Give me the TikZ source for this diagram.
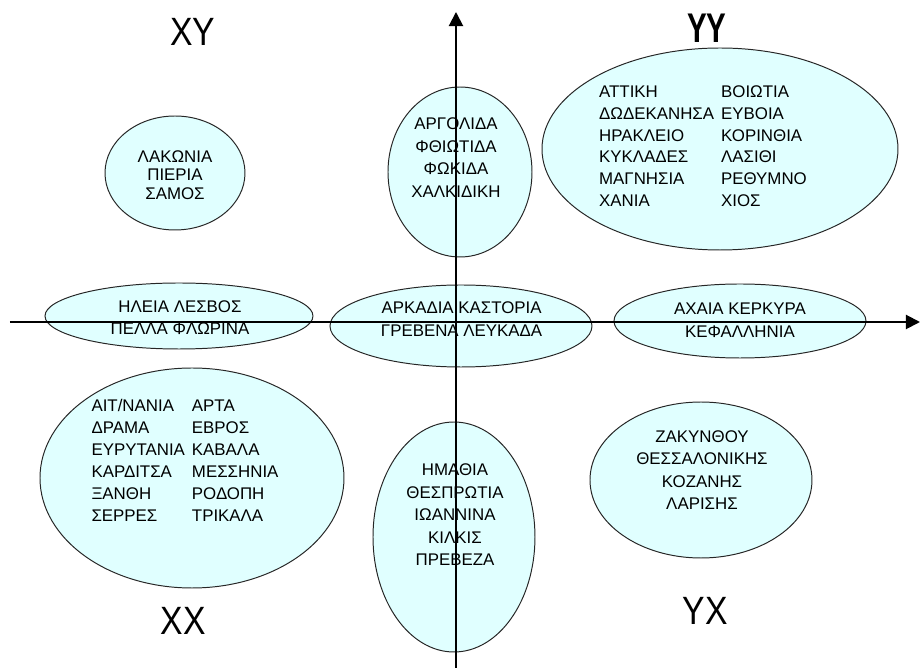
\documentclass[tikz,border=0pt]{standalone}
\usepackage{fontspec}
\setmainfont{Liberation Sans}
\usetikzlibrary{arrows.meta,shapes.geometric}
\definecolor{regfill}{RGB}{224,255,255}

\begin{document}
\begin{tikzpicture}[
    region/.style={ellipse, draw=black!85, line width=0.7pt, fill=regfill, inner sep=0pt},
    names/.style={align=center, font=\fontsize{12}{16}\selectfont},
    quad/.style={font=\fontsize{24}{24}\selectfont, yscale=1.17, transform shape},
    axis/.style={-{Triangle[length=10pt,width=10pt]}, line width=1.4pt}
]
\useasboundingbox (-11.4,-8.725) rectangle (11.625,8.05);

% regions
\node[region, minimum width=3.5cm, minimum height=2.85cm] (lakonia) at (-7.025,3.725) {};
\node[region, minimum width=3.6cm, minimum height=4.25cm] (argolida) at (0.1,3.75) {};
\node[region, minimum width=8.9cm, minimum height=5.05cm] (attiki) at (6.6,4.325) {};
\node[region, minimum width=6.7cm, minimum height=1.65cm] (ilia) at (-6.925,0.15) {};
\node[region, minimum width=6.55cm, minimum height=2.05cm] (arkadia) at (0.125,-0.1) {};
\node[region, minimum width=6.3cm, minimum height=1.85cm] (achaia) at (7.1,0.025) {};
\node[region, minimum width=7.6cm, minimum height=5.5cm] (aitnania) at (-6.6,-3.9) {};
\node[region, minimum width=4.05cm, minimum height=5.75cm] (imathia) at (-0.05,-5.375) {};
\node[region, minimum width=5.55cm, minimum height=3.9cm] (zakynthos) at (6.125,-3.95) {};

% names
\node[names, font=\fontsize{12}{13.2}\selectfont] (lakoniatxt) at (-7.025,3.675) {ΛΑΚΩΝΙΑ\\ΠΙΕΡΙΑ\\ΣΑΜΟΣ};
\node[names] (argolidatxt) at (0,4.11) {ΑΡΓΟΛΙΔΑ\\ΦΘΙΩΤΙΔΑ\\ΦΩΚΙΔΑ\\ΧΑΛΚΙΔΙΚΗ};
\node[names, font=\fontsize{12}{15.6}\selectfont] (attikitxt) at (6.175,4.36) {\begin{tabular}{@{}l@{\hspace{5pt}}l@{}}
ΑΤΤΙΚΗ & ΒΟΙΩΤΙΑ\\
ΔΩΔΕΚΑΝΗΣΑ & ΕΥΒΟΙΑ\\
ΗΡΑΚΛΕΙΟ & ΚΟΡΙΝΘΙΑ\\
ΚΥΚΛΑΔΕΣ & ΛΑΣΙΘΙ\\
ΜΑΓΝΗΣΙΑ & ΡΕΘΥΜΝΟ\\
ΧΑΝΙΑ & ΧΙΟΣ
\end{tabular}};
\node[names] (iliatxt) at (-6.9,0.11) {ΗΛΕΙΑ ΛΕΣΒΟΣ\\ΠΕΛΛΑ ΦΛΩΡΙΝΑ};
\node[names] (arkadiatxt) at (0.14,0.075) {ΑΡΚΑΔΙΑ ΚΑΣΤΟΡΙΑ\\ΓΡΕΒΕΝΑ ΛΕΥΚΑΔΑ};
\node[names] (achaiatxt) at (7.1,0.05) {ΑΧΑΙΑ ΚΕΡΚΥΡΑ\\ΚΕΦΑΛΛΗΝΙΑ};
\node[names, font=\fontsize{12}{15.6}\selectfont] (aitnaniatxt) at (-6.775,-3.51) {\begin{tabular}{@{}l@{\hspace{5pt}}l@{}}
ΑΙΤ/ΝΑΝΙΑ & ΑΡΤΑ\\
ΔΡΑΜΑ & ΕΒΡΟΣ\\
ΕΥΡΥΤΑΝΙΑ & ΚΑΒΑΛΑ\\
ΚΑΡΔΙΤΣΑ & ΜΕΣΣΗΝΙΑ\\
ΞΑΝΘΗ & ΡΟΔΟΠΗ\\
ΣΕΡΡΕΣ & ΤΡΙΚΑΛΑ
\end{tabular}};
\node[names] (imathiatxt) at (-0.025,-4.825) {ΗΜΑΘΙΑ\\ΘΕΣΠΡΩΤΙΑ\\ΙΩΑΝΝΙΝΑ\\ΚΙΛΚΙΣ\\ΠΡΕΒΕΖΑ};
\node[names] (zakynthostxt) at (6.15,-3.7) {ΖΑΚΥΝΘΟΥ\\ΘΕΣΣΑΛΟΝΙΚΗΣ\\ΚΟΖΑΝΗΣ\\ΛΑΡΙΣΗΣ};

% quadrant labels
\node[quad] (xy) at (-6.575,7.24) {ΧΥ};
\node[quad, font=\bfseries\fontsize{21}{21}\selectfont, yscale=1.2] (yy) at (6.275,7.35) {ΥΥ};
\node[quad] (xx) at (-6.8125,-7.475) {ΧΧ};
\node[quad] (yx) at (6.2375,-7.225) {ΥΧ};

% axes
\coordinate (ybot) at (0,-8.65);
\coordinate (ytop) at (0,7.75);
\coordinate (xleft) at (-11.15,0);
\coordinate (xright) at (11.6,0);
\draw[axis] (ybot) -- (ytop);
\draw[axis] (xleft) -- (xright);
\end{tikzpicture}
\end{document}
